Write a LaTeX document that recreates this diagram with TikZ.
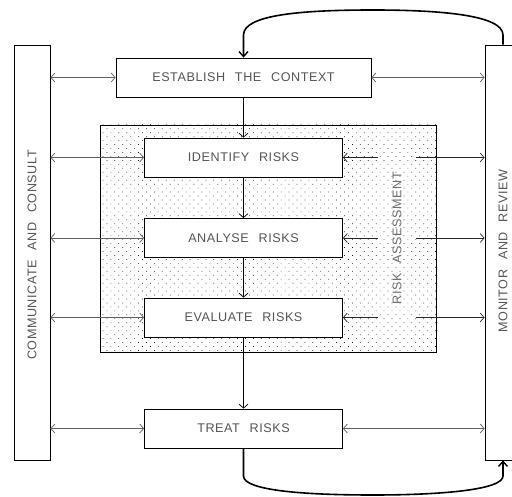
\documentclass[tikz,border=0pt]{standalone}
\usepackage{fontspec}
\setmainfont[LetterSpace=4.5,WordSpace=2.4]{Liberation Sans}
\usetikzlibrary{arrows.meta,patterns.meta,calc}
\definecolor{txt}{HTML}{555555}
\definecolor{linkgray}{HTML}{606060}

\begin{document}
\begin{tikzpicture}[x=1pt,y=-1pt,
  lbl/.style={text=txt, font=\fontsize{12.6}{14}\selectfont, inner sep=0pt},
  box/.style={lbl, draw, line width=0.8pt, fill=white, minimum height=39pt},
  bar/.style={draw, line width=0.8pt, fill=white, inner sep=0pt,
              minimum width=36pt, minimum height=415pt},
  barb/.tip={Straight Barb[length=4pt,width=9pt,line width=0.7pt]},
  link/.style={line width=0.6pt, draw=linkgray, barb-barb},
  feed/.style={line width=0.7pt, draw=black!85, -barb},
  flow/.style={line width=0.7pt, -barb},
  loopline/.style={line width=1.6pt, -{Straight Barb[length=5pt,width=9pt,line width=1.4pt]}}
]
\useasboundingbox (0,0) rectangle (512,497);

% side bars
\node[bar] (cc) at (32,252.5) {};
\node[bar] (mr) at (503,252.5) {};
\node[lbl, rotate=90] (cclbl) at (32,255) {COMMUNICATE AND CONSULT};
\node[lbl, rotate=90] (mrlbl) at (503,251) {MONITOR AND REVIEW};

% risk assessment area
\fill[white] (100,125) rectangle (436,352);
\path[pattern={Dots[distance=5.6pt,angle=45,radius=0.5pt]}, pattern color=black!90]
  (100,125) rectangle (436,352);
\draw[line width=0.9pt] (100,125) rectangle (436,352);
\node[lbl, rotate=90, text=txt!85] (ra) at (397,238) {RISK ASSESSMENT};

% process steps
\node[box, minimum width=255pt] (est) at (243.5,77.5) {ESTABLISH THE CONTEXT};
\node[box, minimum width=198pt] (idr) at (243.5,157.5) {IDENTIFY RISKS};
\node[box, minimum width=198pt] (anr) at (243.5,238) {ANALYSE RISKS};
\node[box, minimum width=198pt] (evr) at (243.5,317.5) {EVALUATE RISKS};
\node[box, minimum width=198pt] (trr) at (243.5,428.5) {TREAT RISKS};

% main flow
\draw[flow] (est) -- (idr);
\draw[flow] (idr) -- (anr);
\draw[flow] (anr) -- (evr);
\draw[flow] (evr) -- (trr);

% communication links
\foreach \n in {est,idr,anr,evr,trr}
  \draw[link] (cc.east |- \n.west) -- (\n.west);
\draw[link] (est.east) -- (mr.west |- est.east);
\draw[link] (trr.east) -- (mr.west |- trr.east);

% monitoring links across the assessment area
\foreach \n in {idr,anr,evr}{
  \draw[feed] ($(\n.east)+(35,0)$) -- (\n.east);
  \draw[feed] ($(\n.east)+(73,0)$) -- (mr.west |- \n.east);
}

% review loops
\draw[loopline] (mr.north) -- (503,35)
  .. controls (503,15) and (440,10) .. (373,10)
  .. controls (300,10) and (243.5,15) .. (243.5,35) -- (est.north);
\draw[loopline] (trr.south) -- (243.5,476)
  .. controls (243.5,490) and (300,495) .. (373,495)
  .. controls (440,495) and (503,490) .. (503,476) -- (mr.south);
\end{tikzpicture}
\end{document}
